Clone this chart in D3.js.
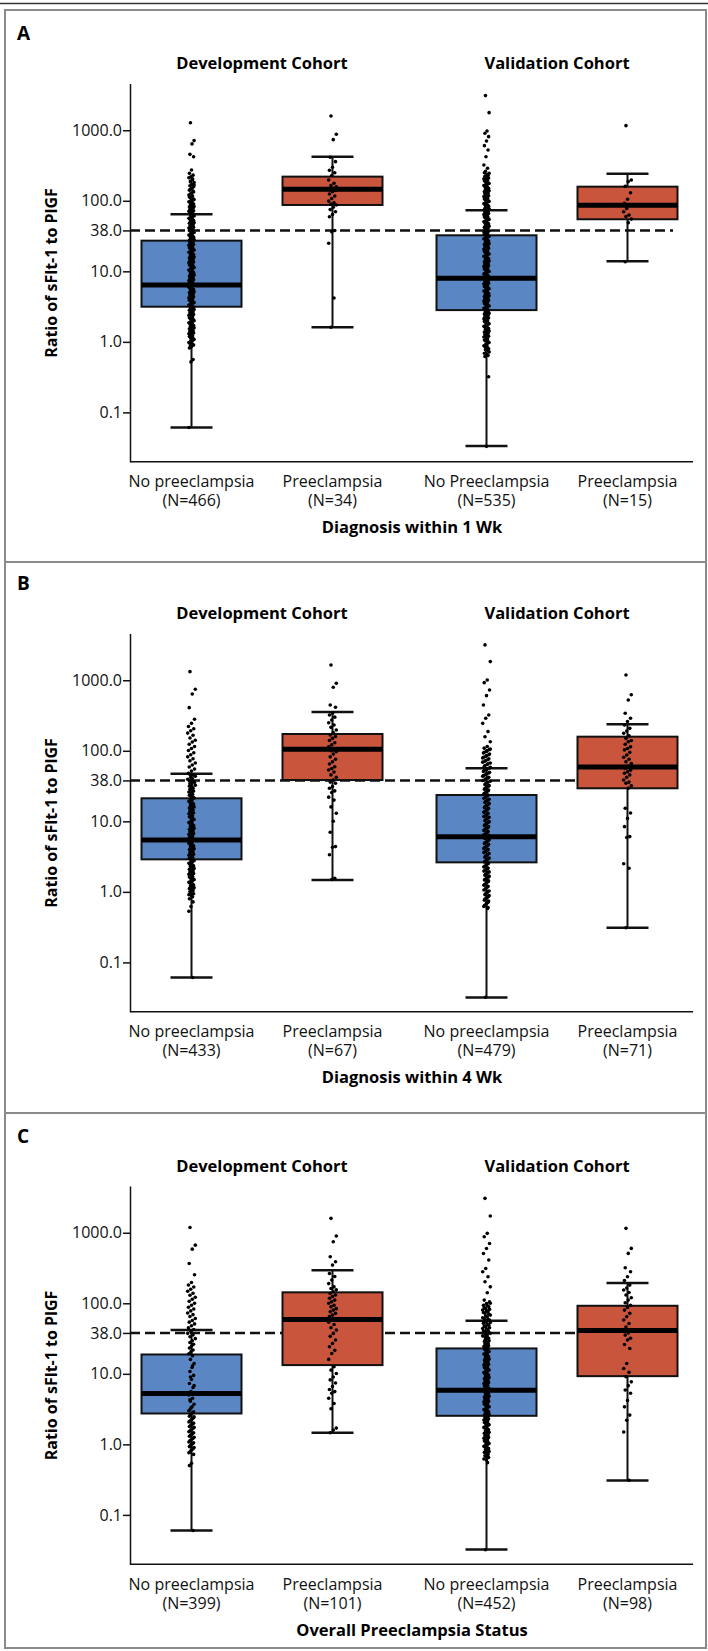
<!DOCTYPE html>
<html>
<head>
<meta charset="utf-8">
<script src="https://d3js.org/d3.v7.min.js"></script>
<style>
  body { margin: 0; background: #fff; }
  svg { display: block; font-family: "Open Sans", "Noto Sans", sans-serif; }
</style>
</head>
<body>
<svg id="chart"></svg>
<script>
// ---------- data ----------
const cohorts = ["Development Cohort", "Validation Cohort"];
const groups = ["noPE", "PE"];
const panelLetters = ["A", "B", "C"];
const xTitles = ["Diagnosis within 1 Wk", "Diagnosis within 4 Wk", "Overall Preeclampsia Status"];
const groupNames = [
  ["No preeclampsia", "Preeclampsia", "No Preeclampsia", "Preeclampsia"],
  ["No preeclampsia", "Preeclampsia", "No preeclampsia", "Preeclampsia"],
  ["No preeclampsia", "Preeclampsia", "No preeclampsia", "Preeclampsia"]
];
const groupN = [[466, 34, 535, 15], [433, 67, 479, 71], [399, 101, 452, 98]];
const yTicks = [0.1, 1, 10, 38, 100, 1000];
const cutoff = 38;

// box stats: [lower whisker, q1, median, q3, upper whisker]
const boxA = [[0.061, 3.15, 6.4, 27.2, 64.4], [1.61, 87.2, 145.6, 220, 422], [0.0333, 2.82, 7.96, 32.4, 73.3], [13.9, 54.7, 86.3, 158.5, 242]];
const boxB = [[0.061, 2.89, 5.43, 21.2, 47.3], [1.47, 38.5, 105, 173, 355], [0.0319, 2.62, 6.05, 23.6, 56.5], [0.31, 29.4, 58.9, 158.5, 238]];
const boxC = [[0.060, 2.74, 5.27, 18.8, 41.7], [1.46, 13.3, 59.1, 143, 293], [0.0323, 2.54, 5.87, 22.9, 56.5], [0.308, 9.27, 41.3, 92.2, 193.5]];

// individual ratios (dense regions estimated)
const dotsA1 = [1280, 713, 640, 455, 422, 273, 245, 231, 219, 212, 198, 190, 181, 170, 163, 158, 149, 141, 137, 128, 121, 117, 110, 104, 99, 95, 90, 85, 82, 78, 74, 71, 67, 64, 61, 58, 55, 52.5, 50, 48, 45.5, 43, 41, 39.5, 37, 35.5, 33.5, 32, 30.5, 29, 27.5, 26, 24.5, 23.5, 22, 21, 20, 19, 18.2, 17.3, 16.4, 15.5, 14.8, 14, 13.3, 12.6, 12, 11.3, 10.7, 10.1, 9.6, 9.1, 8.6, 8.2, 7.8, 7.4, 7.0, 6.7, 6.4, 6.1, 5.8, 5.5, 5.2, 4.95, 4.7, 4.45, 4.2, 4.0, 3.8, 3.6, 3.4, 3.25, 3.1, 2.95, 2.8, 2.65, 2.5, 2.38, 2.25, 2.12, 2.0, 1.9, 1.8, 1.7, 1.62, 1.53, 1.45, 1.38, 1.3, 1.22, 1.15, 1.08, 1.02, 0.95, 0.9, 0.86, 0.82, 0.56, 0.52, 0.061,
  205, 185, 167, 152, 144, 133, 125, 113, 107, 101, 97, 92, 87, 83, 80, 76, 72, 69, 66, 63, 60, 56.5, 54, 51, 49, 46.5, 44, 42, 40, 38, 36, 34.5, 32.8, 31.2, 29.7, 28.2, 26.7, 25.2, 24, 22.7, 21.5, 20.5, 19.5, 18.6, 17.7, 16.8, 15.9, 15.1, 14.4, 13.6, 12.9, 12.3, 11.7, 11, 10.4, 9.9, 9.4, 8.9, 8.4, 8, 7.6, 7.2, 6.85, 6.55, 6.25, 5.95, 5.65, 5.35, 5.1, 4.85, 4.6, 4.35, 4.1, 3.9, 3.7, 3.5, 3.33, 3.17, 3.02, 2.88, 2.72, 2.58, 2.44, 2.32, 2.2, 2.08, 1.97, 1.87, 1.77, 1.67, 1.58, 1.49, 1.41, 1.34, 1.26, 1.19, 1.12, 1.05, 0.98, 0.92, 0.87];
const dotsA2 = [1596, 877, 736, 414, 359, 299, 270, 250, 228, 197, 177, 165, 158, 150, 143, 140, 135, 125, 117, 108, 99, 94, 90, 87, 81, 75, 70, 64, 59.5, 38, 36.5, 25, 4.18, 1.61];
const dotsA3 = [3097, 1777, 977, 906, 811, 705, 605, 525, 422, 322, 289, 262, 245, 236, 222, 210, 201, 192, 180, 172, 165, 154, 147, 139, 131, 126, 118, 112, 106, 100, 96, 91, 86, 81, 77, 73, 69, 66, 62, 59, 56, 53, 50.5, 48, 45.5, 43.5, 41, 39, 37, 35, 33.5, 32, 30.5, 29, 27.5, 26, 24.8, 23.5, 22.3, 21.2, 20.1, 19.1, 18.1, 17.2, 16.3, 15.5, 14.7, 14, 13.3, 12.6, 12, 11.4, 10.8, 10.2, 9.7, 9.2, 8.7, 8.3, 7.9, 7.5, 7.1, 6.8, 6.4, 6.1, 5.8, 5.5, 5.25, 5.0, 4.75, 4.5, 4.3, 4.1, 3.9, 3.7, 3.5, 3.3, 3.15, 3.0, 2.85, 2.7, 2.55, 2.42, 2.3, 2.18, 2.06, 1.95, 1.85, 1.75, 1.66, 1.58, 1.5, 1.42, 1.35, 1.28, 1.2, 1.13, 1.06, 1.0, 0.94, 0.88, 0.83, 0.78, 0.72, 0.66, 0.62, 0.32, 0.033,
  250, 228, 215, 205, 196, 186, 176, 168, 160, 150, 143, 135, 128, 122, 115, 109, 103, 98, 93.5, 88.5, 84, 79, 75, 71, 67.5, 64, 60.5, 57.5, 54.5, 51.5, 49, 47, 44.5, 42, 40, 38, 36, 34.2, 32.7, 31.2, 29.7, 28.2, 26.8, 25.4, 24.1, 22.9, 21.7, 20.6, 19.5, 18.5, 17.6, 16.7, 15.9, 15.1, 14.3, 13.6, 12.9, 12.3, 11.7, 11.1, 10.5, 9.95, 9.45, 8.95, 8.5, 8.05, 7.7, 7.3, 6.95, 6.6, 6.25, 5.95, 5.65, 5.37, 5.12, 4.87, 4.62, 4.4, 4.2, 4.0, 3.8, 3.6, 3.42, 3.22, 3.07, 2.92, 2.78, 2.62, 2.49, 2.36, 2.24, 2.12, 2.0, 1.9, 1.8, 1.7, 1.62, 1.54, 1.46, 1.38, 1.31, 1.24, 1.17, 1.1, 1.04, 0.98, 0.91, 0.86, 0.8, 0.75, 0.69, 0.64];
const dotsA4 = [1162, 197, 187, 160, 130, 105, 92, 86, 78, 70, 63, 60, 55, 49, 13.7];
const dotsB1 = [1324, 745, 639, 409, 280, 245, 221, 205, 192, 178, 166, 152, 141, 133, 124, 115, 108, 101, 94, 88, 82, 77, 72, 67, 63, 59, 55, 51.5, 48, 45, 42, 39.5, 37, 34.5, 32.5, 30.5, 28.5, 26.8, 25, 23.5, 22, 20.6, 19.3, 18.1, 17, 16, 15, 14.1, 13.2, 12.4, 11.6, 10.9, 10.2, 9.6, 9, 8.5, 8, 7.5, 7.1, 6.7, 6.3, 5.9, 5.55, 5.2, 4.9, 4.6, 4.35, 4.1, 3.85, 3.6, 3.4, 3.2, 3.0, 2.85, 2.7, 2.55, 2.4, 2.28, 2.15, 2.03, 1.92, 1.82, 1.72, 1.62, 1.53, 1.45, 1.37, 1.29, 1.21, 1.14, 1.07, 1.0, 0.94, 0.88, 0.8, 0.72, 0.62, 0.53, 0.061,
  46, 43.5, 40.5, 38, 35.5, 33.5, 31.5, 29.5, 27.5, 26, 24.2, 22.8, 21.3, 20, 18.7, 17.6, 16.5, 15.5, 14.6, 13.7, 12.8, 12, 11.3, 10.6, 9.9, 9.3, 8.7, 8.2, 7.7, 7.3, 6.9, 6.5, 6.1, 5.75, 5.4, 5.05, 4.75, 4.48, 4.22, 3.97, 3.73, 3.5, 3.3, 3.1, 2.92, 2.77, 2.62, 2.47, 2.34, 2.21, 2.09, 1.97, 1.87, 1.77, 1.67, 1.58, 1.49, 1.41, 1.33, 1.25, 1.18, 1.11, 1.04, 0.97, 0.91, 0.85];
const dotsB2 = [1648, 906, 796, 446, 414, 340, 322, 300, 273, 250, 232, 215, 197, 182, 168, 160, 150, 140, 130, 122, 114, 106, 100, 97, 90, 82, 76, 70, 65, 59.5, 56, 53.5, 50, 45.5, 42, 38.5, 36, 34.6, 31, 29.4, 27, 25.6, 22, 20, 16, 13, 10, 7, 4.38, 4.3, 3.36, 1.56, 1.5];
const dotsB3 = [3170, 1837, 1010, 925, 729, 605, 446, 322, 289, 245, 187, 158, 134, 115, 109, 104, 98, 93, 88, 83, 79, 75, 71, 67, 64, 60, 57, 54, 51, 48.5, 46, 43.5, 41, 39, 37, 35, 33, 31.5, 30, 28.4, 27, 25.6, 24.3, 23, 21.8, 20.6, 19.5, 18.5, 17.5, 16.6, 15.7, 14.9, 14.1, 13.4, 12.7, 12, 11.4, 10.8, 10.2, 9.7, 9.2, 8.7, 8.2, 7.8, 7.4, 7.0, 6.6, 6.3, 6.0, 5.7, 5.4, 5.1, 4.85, 4.6, 4.35, 4.1, 3.9, 3.7, 3.5, 3.3, 3.1, 2.95, 2.8, 2.65, 2.5, 2.37, 2.25, 2.13, 2.02, 1.92, 1.82, 1.72, 1.63, 1.55, 1.47, 1.39, 1.31, 1.24, 1.17, 1.1, 1.03, 0.97, 0.91, 0.86, 0.81, 0.76, 0.71, 0.66, 0.62, 0.58, 0.032,
  106, 101, 95, 90, 85.5, 81, 77, 73, 69, 65.5, 62, 58.5, 55.5, 52.5, 49.5, 47, 44.5, 42, 40, 38, 36, 34, 32.2, 30.7, 29.2, 27.7, 26.3, 25, 23.6, 22.4, 21.2, 20, 19, 18, 17, 16.1, 15.3, 14.5, 13.7, 13, 12.3, 11.7, 11.1, 10.5, 9.95, 9.45, 8.95, 8.45, 8, 7.6, 7.2, 6.8, 6.45, 6.15, 5.85, 5.55, 5.25, 4.97, 4.72, 4.47, 4.22, 4.0, 3.8, 3.6, 3.4, 3.2, 3.02, 2.87, 2.72, 2.57, 2.43, 2.3, 2.18, 2.07, 1.97, 1.87, 1.77, 1.67, 1.59, 1.51, 1.43, 1.35, 1.27, 1.2, 1.13, 1.06, 1.0, 0.94, 0.89, 0.84, 0.79, 0.74, 0.69, 0.64, 0.6];
const dotsB4 = [1189, 622, 525, 340, 289, 260, 232, 208, 190, 177, 163, 150, 140, 134, 124, 114, 108, 103, 95, 87, 81, 76, 70, 66, 61, 56.5, 53, 50.5, 48, 45.5, 42, 38.5, 36, 34.6, 32, 29.4, 15.3, 13.1, 11, 8.4, 6.07, 5.9, 2.5, 2.16, 0.31];
const dotsC1 = [1189, 667, 585, 367, 254, 197, 182, 170, 158, 148, 139, 130, 122, 114, 107, 100, 94, 88, 83, 78, 73, 69, 65, 61, 57, 54, 51, 48, 45, 42.5, 40, 37.5, 35.5, 33.5, 31.5, 29.5, 27.8, 26.2, 24.6, 23.2, 21.8, 20.5, 19.3, 18, 16, 14, 12.3, 10.8, 9.5, 8.3, 7.3, 6.4, 5.6, 5.0, 4.5, 4.1, 3.7, 3.4, 3.1, 2.9, 2.7, 2.5, 2.35, 2.2, 2.07, 1.95, 1.84, 1.74, 1.64, 1.55, 1.46, 1.38, 1.3, 1.22, 1.15, 1.08, 1.02, 0.96, 0.9, 0.85, 0.78, 0.72, 0.54, 0.5, 0.06,
  3.3, 3.0, 2.8, 2.6, 2.45, 2.28, 2.14, 2.0, 1.9, 1.79, 1.69, 1.6, 1.51, 1.42, 1.34, 1.26, 1.19, 1.12, 1.05, 0.99, 0.93, 0.87, 0.82, 0.76, 13, 9, 6.8, 5.3, 4.3];
const dotsC2 = [1600, 898, 745, 457, 388, 348, 265, 240, 213, 190, 171, 162, 155, 146, 138, 131, 125, 118, 111, 105, 100, 94, 89, 84, 80, 76, 72, 68, 65, 61, 58, 54, 50, 45, 41.7, 37.4, 34, 30.1, 27, 24.2, 21.5, 19.4, 16, 12.6, 11.3, 10.1, 9, 8.2, 7.4, 6.6, 6, 5.6, 5.3, 4.5, 3.8, 3.2, 1.7, 1.6, 1.46];
const dotsC3 = [3073, 1725, 980, 877, 705, 599, 509, 410, 312, 280, 238, 202, 171, 141, 111, 105, 99, 94, 89, 84, 80, 76, 72, 68, 64, 61, 58, 55, 52, 49, 46.5, 44, 41.5, 39.5, 37.5, 35.5, 33.5, 32, 30.3, 28.7, 27.2, 25.8, 24.4, 23.1, 21.9, 20.7, 19.6, 18.6, 17.6, 16.6, 15.7, 14.9, 14.1, 13.3, 12.6, 11.9, 11.3, 10.7, 10.1, 9.6, 9.1, 8.6, 8.1, 7.7, 7.3, 6.9, 6.5, 6.2, 5.85, 5.55, 5.25, 4.95, 4.7, 4.45, 4.2, 4.0, 3.8, 3.6, 3.4, 3.2, 3.05, 2.9, 2.75, 2.6, 2.47, 2.34, 2.22, 2.1, 1.99, 1.89, 1.79, 1.7, 1.61, 1.52, 1.44, 1.36, 1.29, 1.22, 1.15, 1.09, 1.03, 0.97, 0.92, 0.87, 0.82, 0.77, 0.72, 0.67, 0.62, 0.55, 0.032,
  100, 93, 87, 82, 78, 74, 70, 66, 62.5, 59.5, 56.5, 53.5, 50.5, 47.5, 45, 42.8, 40.5, 38.5, 36.5, 34.5, 32.7, 31, 29.5, 28, 26.5, 25.1, 23.8, 22.5, 21.3, 20.2, 19.1, 18.1, 17.1, 16.2, 15.3, 14.5, 13.7, 13, 12.3, 11.6, 11, 10.4, 9.85, 9.35, 8.85, 8.35, 7.9, 7.5, 7.1, 6.7, 6.35, 6.0, 5.7, 5.4, 5.1, 4.82, 4.57, 4.32, 4.1, 3.9, 3.7, 3.5, 3.3, 3.12, 2.97, 2.82, 2.67, 2.53, 2.4, 2.28, 2.16, 2.04, 1.94, 1.84, 1.74, 1.65, 1.56, 1.48, 1.4, 1.32, 1.25, 1.18, 1.12, 1.06, 1.0, 0.94, 0.89, 0.84, 0.79, 0.74, 0.69, 0.65, 0.6];
const dotsC4 = [1155, 600, 510, 319, 280, 238, 210, 181, 165, 154, 142, 131, 120, 111, 102, 94, 87, 80, 72, 64.5, 58, 51.8, 46, 41.7, 38, 35.4, 32, 30.1, 26, 22.9, 14, 11.9, 10.5, 9.1, 7.7, 6.8, 5.9, 5.3, 4.2, 3.4, 2.6, 2.2, 1.5, 0.31];

const panelBoxes = [boxA, boxB, boxC];
const panelDots = [[dotsA1, dotsA2, dotsA3, dotsA4], [dotsB1, dotsB2, dotsB3, dotsB4], [dotsC1, dotsC2, dotsC3, dotsC4]];

// ---------- layout ----------
const width = 708, height = 1651;
const panelTop = [0, 550, 1102.5];
const boxFill = ["#5b86c4", "#c9553c"];

const svg = d3.select("#chart")
    .attr("width", width)
    .attr("height", height);

svg.append("rect").attr("width", width).attr("height", height).attr("fill", "#fff");

// scales shared by all three panels
const y = d3.scaleLog().domain([0.02, 4600]).range([461.7, 83.5]);
const xCohort = d3.scaleBand().domain(cohorts).range([114.5, 704.5]);
const xGroup = d3.scalePoint().domain(groups).range([77, 218]);
const xPos = i => xCohort(cohorts[Math.floor(i / 2)]) + xGroup(groups[i % 2]);
const boxW = 100, capW = 42;

// outer frame
svg.append("line")
    .attr("x1", 0).attr("x2", width).attr("y1", 3.5).attr("y2", 3.5)
    .attr("stroke", "#333").attr("stroke-width", 1.3);
svg.append("rect")
    .attr("x", 5).attr("y", 10).attr("width", 701).attr("height", 1638)
    .attr("fill", "none").attr("stroke", "#8a8a8a").attr("stroke-width", 2);
[562, 1113].forEach(sy => {
    svg.append("line")
        .attr("x1", 5).attr("x2", 706).attr("y1", sy).attr("y2", sy)
        .attr("stroke", "#8a8a8a").attr("stroke-width", 2);
});

panelLetters.forEach((letter, p) => {
    const g = svg.append("g").attr("transform", "translate(0," + panelTop[p] + ")");

    // panel letter
    g.append("text")
        .attr("x", 17).attr("y", 40)
        .attr("font-size", 19).attr("font-weight", 700)
        .text(letter);

    // cohort titles
    g.selectAll(".cohort")
        .data(cohorts)
        .enter()
        .append("text")
        .attr("x", d => xCohort(d) + xCohort.bandwidth() / 2)
        .attr("y", 69)
        .attr("text-anchor", "middle")
        .attr("font-size", 16.5).attr("font-weight", 700)
        .text(d => d);

    // y axis
    const yAxis = g.append("g")
        .attr("transform", "translate(130,0)")
        .call(d3.axisLeft(y).tickValues(yTicks).tickFormat(d3.format(".1f")).tickSize(7).tickPadding(1).tickSizeOuter(0));
    yAxis.attr("font-family", null).attr("font-size", null);
    yAxis.selectAll("text").attr("font-size", 16).attr("fill", "#111");
    yAxis.selectAll("line, path").attr("stroke", "#111").attr("stroke-width", 1.5);

    // x axis baseline
    g.append("line")
        .attr("x1", 130).attr("x2", 693)
        .attr("y1", y.range()[0]).attr("y2", y.range()[0])
        .attr("stroke", "#111").attr("stroke-width", 1.5);

    // y axis title
    g.append("text")
        .attr("transform", "translate(57,273) rotate(-90)")
        .attr("text-anchor", "middle")
        .attr("font-size", 16).attr("font-weight", 700)
        .text("Ratio of sFlt-1 to PlGF");

    // cutoff line
    g.append("line")
        .attr("x1", 130).attr("x2", 673)
        .attr("y1", y(cutoff)).attr("y2", y(cutoff))
        .attr("stroke", "#111").attr("stroke-width", 2.5)
        .attr("stroke-dasharray", "10,5");

    const stats = panelBoxes[p];
    const boxes = g.selectAll(".box")
        .data(stats)
        .enter()
        .append("g");

    // whisker
    boxes.append("line")
        .attr("x1", (d, i) => xPos(i)).attr("x2", (d, i) => xPos(i))
        .attr("y1", d => y(d[0])).attr("y2", d => y(d[4]))
        .attr("stroke", "#111").attr("stroke-width", 2);
    boxes.append("line")
        .attr("x1", (d, i) => xPos(i) - capW / 2).attr("x2", (d, i) => xPos(i) + capW / 2)
        .attr("y1", d => y(d[0])).attr("y2", d => y(d[0]))
        .attr("stroke", "#111").attr("stroke-width", 2.5);
    boxes.append("line")
        .attr("x1", (d, i) => xPos(i) - capW / 2).attr("x2", (d, i) => xPos(i) + capW / 2)
        .attr("y1", d => y(d[4])).attr("y2", d => y(d[4]))
        .attr("stroke", "#111").attr("stroke-width", 2.5);

    // box
    boxes.append("rect")
        .attr("x", (d, i) => xPos(i) - boxW / 2)
        .attr("y", d => y(d[3]))
        .attr("width", boxW)
        .attr("height", d => y(d[1]) - y(d[3]))
        .attr("fill", (d, i) => boxFill[i % 2])
        .attr("stroke", "#111").attr("stroke-width", 2);

    // median
    boxes.append("line")
        .attr("x1", (d, i) => xPos(i) - boxW / 2).attr("x2", (d, i) => xPos(i) + boxW / 2)
        .attr("y1", d => y(d[2])).attr("y2", d => y(d[2]))
        .attr("stroke", "#000").attr("stroke-width", 5);

    // individual points, small fixed jitter (wider for the sparse upper tails)
    panelDots[p].forEach((vals, i) => {
        const spread = d => (i % 2 === 1 || (p > 0 && d > stats[i][3] * 1.5)) ? 3.8 : 2.6;
        g.append("g")
            .selectAll("circle")
            .data(vals)
            .enter()
            .append("circle")
            .attr("cx", (d, k) => xPos(i) + (((k * 7 + 3) % 11) - 5) / 5 * spread(d))
            .attr("cy", d => y(d))
            .attr("r", 1.8)
            .attr("fill", "#000");
    });

    // category labels
    const labels = g.selectAll(".cat")
        .data(groupNames[p])
        .enter()
        .append("text")
        .attr("text-anchor", "middle")
        .attr("font-size", 16)
        .attr("fill", "#111");
    labels.append("tspan")
        .attr("x", (d, i) => xPos(i)).attr("y", 487)
        .text(d => d);
    labels.append("tspan")
        .attr("x", (d, i) => xPos(i)).attr("y", 506)
        .text((d, i) => "(N=" + groupN[p][i] + ")");

    // x axis title
    g.append("text")
        .attr("x", 412).attr("y", 533)
        .attr("text-anchor", "middle")
        .attr("font-size", 16.5).attr("font-weight", 700)
        .text(xTitles[p]);
});
</script>
</body>
</html>
